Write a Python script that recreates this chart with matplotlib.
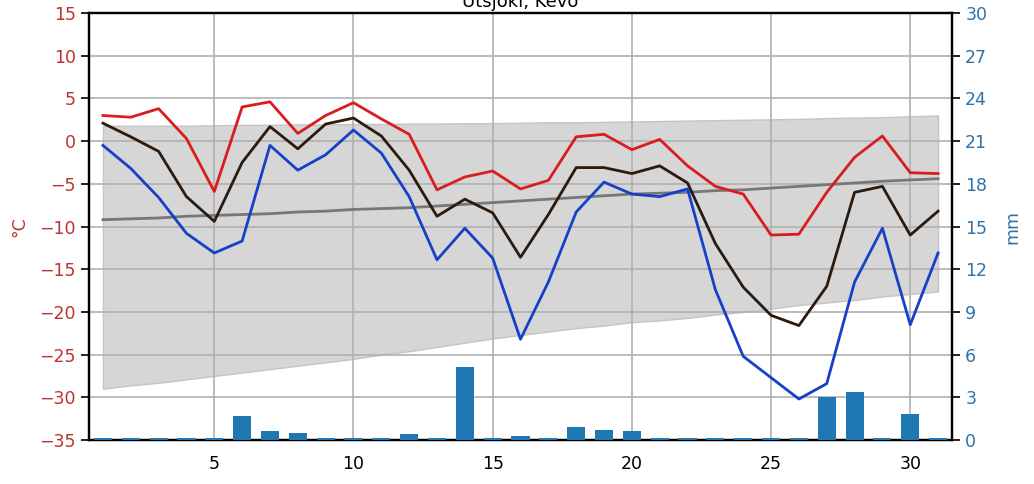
import matplotlib
matplotlib.use("Agg")
import matplotlib.pyplot as plt
import numpy as np

# Daily observations, Utsjoki Kevo
days = list(range(1, 32))
tmax = [3.0, 2.8, 3.8, 0.3, -5.9, 4.0, 4.6, 0.9, 3.0, 4.5, 2.6, 0.8, -5.7, -4.2, -3.5, -5.6,
        -4.6, 0.5, 0.8, -1.0, 0.2, -2.9, -5.3, -6.2, -11.0, -10.9, -6.0, -1.9, 0.6, -3.7, -3.8]
tmean = [2.1, 0.5, -1.2, -6.5, -9.4, -2.5, 1.7, -0.9, 2.0, 2.7, 0.6, -3.4, -8.8, -6.8, -8.4, -13.6,
         -8.6, -3.1, -3.1, -3.8, -2.9, -4.9, -12.0, -17.1, -20.4, -21.6, -17.0, -6.0, -5.3, -11.0, -8.2]
tmin = [-0.5, -3.2, -6.6, -10.8, -13.1, -11.7, -0.5, -3.4, -1.6, 1.3, -1.4, -6.5, -13.9, -10.2, -13.7, -23.2,
        -16.5, -8.3, -4.8, -6.2, -6.5, -5.6, -17.4, -25.2, -27.7, -30.2, -28.4, -16.5, -10.2, -21.5, -13.1]
precip = [0.15, 0.15, 0.15, 0.15, 0.15, 1.7, 0.6, 0.5, 0.15, 0.15, 0.15, 0.4, 0.15, 5.1, 0.15, 0.3,
          0.15, 0.9, 0.7, 0.6, 0.15, 0.15, 0.15, 0.15, 0.15, 0.15, 3.0, 3.4, 0.15, 1.8, 0.15]

# Climatology (mean and range)
clim_mean = [-9.2, -9.1, -9.0, -8.8, -8.7, -8.6, -8.5, -8.3, -8.2, -8.0, -7.9, -7.8, -7.6, -7.4, -7.2, -7.0,
             -6.8, -6.6, -6.4, -6.2, -6.1, -6.0, -5.8, -5.7, -5.5, -5.3, -5.1, -4.9, -4.7, -4.55, -4.4]
clim_high = [1.8, 1.8, 1.8, 1.8, 1.85, 1.9, 1.9, 1.95, 1.95, 2.0, 2.0, 2.05, 2.05, 2.1, 2.1, 2.15,
             2.2, 2.2, 2.25, 2.3, 2.35, 2.4, 2.45, 2.5, 2.55, 2.6, 2.7, 2.75, 2.8, 2.9, 3.0]
clim_low = [-29.0, -28.6, -28.3, -27.9, -27.5, -27.1, -26.7, -26.3, -25.9, -25.5, -25.0, -24.6, -24.1, -23.6,
            -23.1, -22.7, -22.3, -21.9, -21.6, -21.2, -21.0, -20.7, -20.3, -20.0, -19.6, -19.2, -18.9,
            -18.6, -18.2, -17.9, -17.6]

temp_color = '#bb3333'
rain_color = '#2f72a8'

fig = plt.figure(figsize=(10.34, 4.84), dpi=100)
ax = fig.add_axes([0.0861, 0.0909, 0.8346, 0.8822])

# climatology band and mean
ax.fill_between(days, clim_low, clim_high, color='#d6d6d6', edgecolor='#c4c4c4', linewidth=1, zorder=0)
ax.plot(days, clim_mean, color='#777777', linewidth=2, zorder=2)

# observed temperatures
ax.plot(days, tmax, color='#d91c1c', linewidth=2, zorder=3)
ax.plot(days, tmean, color='#2b1a0e', linewidth=2, zorder=3)
ax.plot(days, tmin, color='#1540c8', linewidth=2, zorder=3)

ax.set_xlim(0.5, 31.5)
ax.set_ylim(-35, 15)
ax.set_yticks(np.arange(-35, 16, 5))
ax.set_xticks([5, 10, 15, 20, 25, 30])
ax.grid(True, color='#b0b0b0', linewidth=1.2)
ax.set_axisbelow(True)
ax.set_ylabel('°C', color=temp_color, fontsize=12.5, labelpad=8)
ax.tick_params(axis='y', labelcolor=temp_color, labelsize=12.5, length=6, width=1.2)
ax.tick_params(axis='x', labelsize=12.5, length=0, pad=11)
ax.set_title('Utsjoki, Kevo', fontsize=13, pad=4)

# precipitation on the right axis
ax2 = ax.twinx()
ax2.bar(days, precip, width=0.65, color='#1f77b4', zorder=3)
ax2.set_ylim(0, 30)
ax2.set_yticks(np.arange(0, 31, 3))
ax2.set_ylabel('mm', color=rain_color, fontsize=12.5, labelpad=12)
ax2.tick_params(axis='y', labelcolor=rain_color, labelsize=12.5, length=6, width=1.2)

for a in (ax, ax2):
    for s in a.spines.values():
        s.set_linewidth(1.6)
        s.set_color('black')

fig.savefig('out.png', dpi=100)
